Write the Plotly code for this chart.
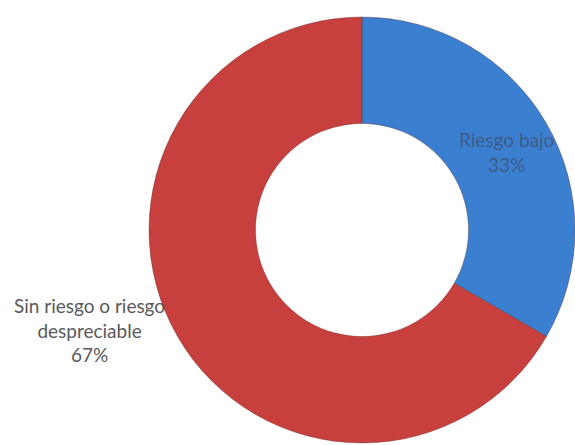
import plotly.graph_objects as go

# Risk classification counts
categories = ["Riesgo bajo", "Sin riesgo o riesgo<br>despreciable"]
values = [1, 2]
colors = ["#3b7fd1", "#c8403d"]

W, H = 575, 445
total = sum(values)
pct = [round(100 * v / total) for v in values]

fig = go.Figure(
    go.Pie(
        labels=categories,
        values=values,
        hole=0.5,
        sort=False,
        direction="clockwise",
        rotation=0,
        marker=dict(colors=colors, line=dict(color="rgba(80,30,30,0.35)", width=1)),
        textinfo="none",
        hoverinfo="label+percent",
        domain=dict(x=[149 / W, 1.0], y=[2 / H, 428 / H]),
        showlegend=False,
    )
)

label_font = dict(family="Lato, Liberation Sans, sans-serif", size=19)
fig.add_annotation(
    x=506 / W, y=1 - 152 / H, xref="paper", yref="paper",
    xanchor="center", yanchor="middle",
    text=f"{categories[0]}<br>{pct[0]}%",
    showarrow=False, align="center",
    font=dict(color="#3e5b86", **label_font),
)
fig.add_annotation(
    x=89 / W, y=1 - 330 / H, xref="paper", yref="paper",
    xanchor="center", yanchor="middle",
    text=f"{categories[1]}<br>{pct[1]}%",
    showarrow=False, align="center",
    font=dict(color="#595959", **label_font),
)

fig.update_layout(
    width=W, height=H,
    margin=dict(l=0, r=0, t=0, b=0),
    paper_bgcolor="white",
    plot_bgcolor="white",
)

fig.write_html("out.html")
